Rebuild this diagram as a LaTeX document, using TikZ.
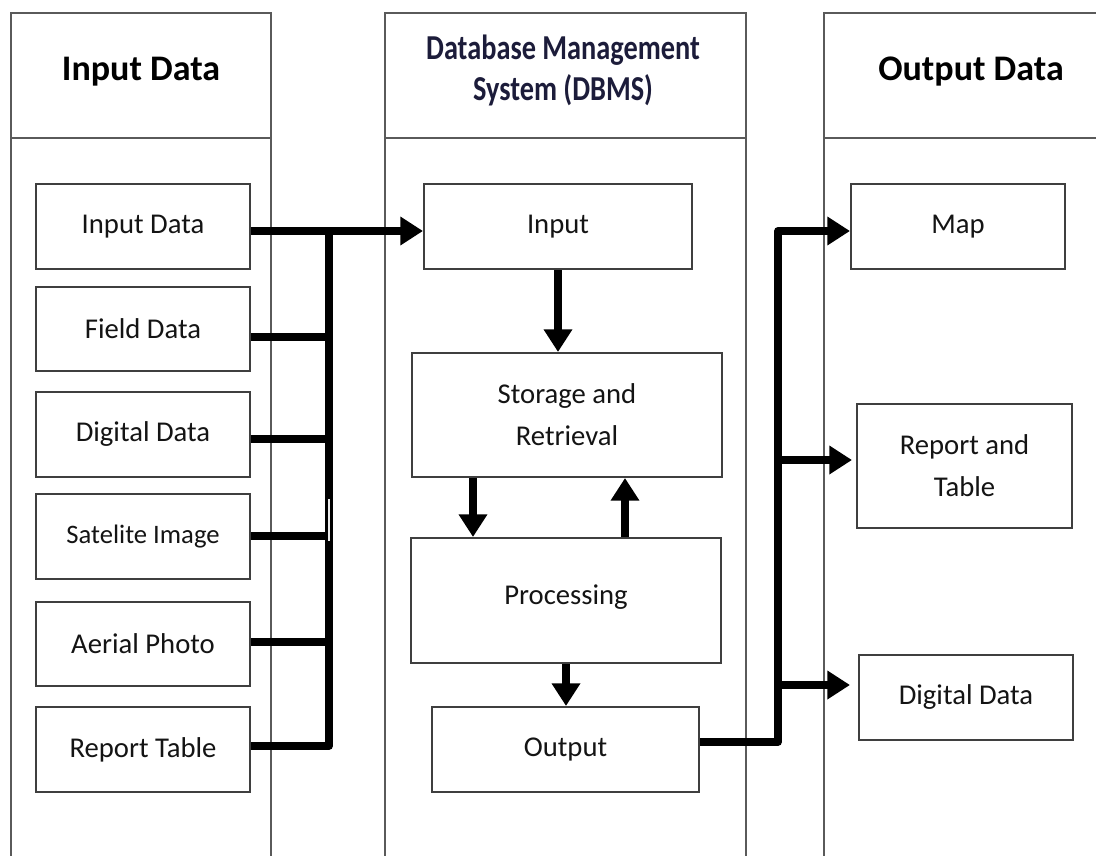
\documentclass[tikz,border=0pt]{standalone}
\usepackage{fontspec}
\setmainfont{Carlito}
\usetikzlibrary{arrows.meta}
\def\pxu{0.75pt}
\definecolor{frame}{HTML}{5A5A5A}
\definecolor{boxline}{HTML}{3F3F3F}
\definecolor{ink}{HTML}{141414}
\definecolor{navy}{HTML}{1C1C3A}
\begin{document}
\begin{tikzpicture}[x=0.75pt,y=-0.75pt,
  column/.style={draw=frame, line width=1.5pt},
  box/.style={draw=boxline, line width=1.5pt, fill=white, inner sep=0pt,
    align=center, text=ink, font=\fontsize{21.5}{31.5}\selectfont},
  sz/.style 2 args={minimum width=#1*\pxu, minimum height=#2*\pxu},
  head/.style={anchor=base, inner sep=0pt, text=black,
    font=\bfseries\fontsize{27}{32}\selectfont},
  dbhead/.style={anchor=base, inner sep=0pt, text=navy,
    font=\bfseries\fontsize{25}{30}\selectfont},
  bus/.style={line width=5.8pt, draw=black, line join=round},
  arr/.style={bus, -{Triangle[length=17pt,width=20.5pt]}}
]
\useasboundingbox (0,0) rectangle (1096,856);

% three swimlane columns, open at the bottom
\draw[column] (11,862) -- (11,13) -- (271,13) -- (271,862);
\draw[column] (11,138) -- (271,138);
\draw[column] (385,862) -- (385,13) -- (746,13) -- (746,862);
\draw[column] (385,138) -- (746,138);
\draw[column] (824,862) -- (824,13) -- (1102,13);
\draw[column] (824,138) -- (1102,138);

% column headings
\node[head] (hin) at (141,81) {Input Data};
\node[dbhead] (hdb1) at (563,60) {\scalebox{0.85}[1.05]{Database Management}};
\node[dbhead] (hdb2) at (563,100) {\scalebox{0.85}[1.05]{System (DBMS)}};
\node[head] (hout) at (971,80) {Output Data};

% input sources
\node[box, sz={214}{85}] (in1) at (143,226.5) {Input Data};
\node[box, sz={214}{84}] (in2) at (143,329) {Field Data};
\node[box, sz={214}{85}] (in3) at (143,434.5) {Digital Data};
\node[box, sz={214}{85}, font=\fontsize{20}{24}\selectfont] (in4) at (143,536.5) {Satelite Image};
\node[box, sz={214}{84}] (in5) at (143,644) {Aerial Photo};
\node[box, sz={214}{85}] (in6) at (143,749.5) {Report Table};

% DBMS stages
\node[box, sz={268}{85}] (inp) at (558,226.5) {Input};
\node[box, sz={310}{124}] (sto) at (567,415) {Storage and\\Retrieval};
\node[box, sz={310}{125}] (pro) at (566,600.5) {\raisebox{9pt}{Processing}};
\node[box, sz={267}{85}] (out) at (565.5,749.5) {Output};

% outputs
\node[box, sz={214}{85}] (map) at (958,226.5) {Map};
\node[box, sz={215}{124}] (rep) at (964.5,466) {Report and\\Table};
\node[box, sz={214}{85}] (dig) at (966,697.5) {Digital Data};

% collector bus on the input side
\coordinate (b1) at (329,231);
\coordinate (b2) at (329,337);
\coordinate (b3) at (329,439);
\coordinate (b4) at (329,536);
\coordinate (b5) at (329,642);
\coordinate (b6) at (329,746);
\draw[arr] (in6.east |- b6) -- (b6) -- (b1) -- (inp.west |- b1);
\draw[bus] (in1.east |- b1) -- (b1);
\draw[bus] (in2.east |- b2) -- (b2);
\draw[bus] (in3.east |- b3) -- (b3);
\draw[bus] (in4.east |- b4) -- (b4);
\draw[bus] (in5.east |- b5) -- (b5);
\draw[white!85!gray, line width=1.8pt] (329,499) -- (329,541);

% flow inside the DBMS
\coordinate (d1) at (473,0);
\coordinate (u1) at (625,0);
\draw[arr] (inp.south) -- (inp.south |- sto.north);
\draw[arr] (sto.south -| d1) -- (pro.north -| d1);
\draw[arr] (pro.north -| u1) -- (sto.south -| u1);
\draw[arr] (pro.south) -- (pro.south |- out.north);

% distribution bus on the output side
\coordinate (o0) at (778,742);
\coordinate (o1) at (778,231);
\coordinate (o2) at (778,460);
\coordinate (o3) at (778,685);
\draw[arr] (out.east |- o0) -- (o0) -- (o1) -- (map.west |- o1);
\draw[arr, shorten >=3pt] (o2) -- (rep.west |- o2);
\draw[arr, shorten >=6pt] (o3) -- (dig.west |- o3);
\end{tikzpicture}
\end{document}
